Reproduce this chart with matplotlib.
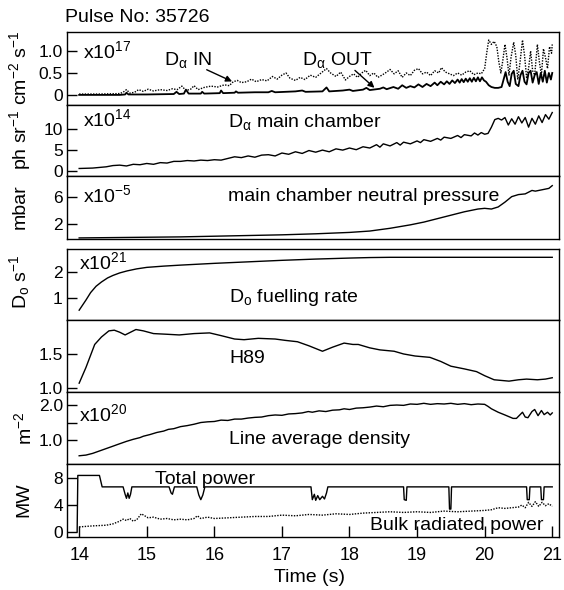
import matplotlib
matplotlib.use('Agg')
import matplotlib.pyplot as plt

plt.rcParams['font.family'] = ['Liberation Sans', 'DejaVu Sans']
plt.rcParams['mathtext.fontset'] = 'custom'
plt.rcParams['mathtext.rm'] = 'Liberation Sans'
plt.rcParams['mathtext.it'] = 'Liberation Sans:italic'
plt.rcParams['mathtext.bf'] = 'Liberation Sans:bold'

# ---------------- data ----------------
pulse_title = 'Pulse No: 35726'
x_ticks = [14, 15, 16, 17, 18, 19, 20, 21]

da_in = [(14.0,0.02),(14.3,0.02),(14.6,0.03),(14.65,0.06),(14.7,0.12),(14.75,0.04),(14.82,0.06),(14.88,0.12),
         (14.95,0.08),(15.02,0.13),(15.1,0.09),(15.2,0.12),(15.3,0.1),(15.38,0.14),(15.45,0.12),(15.52,0.2),
         (15.58,0.1),(15.65,0.13),(15.7,0.21),(15.76,0.12),(15.85,0.17),(15.95,0.2),(16.05,0.18),(16.15,0.23),
         (16.22,0.21),(16.28,0.3),(16.34,0.33),(16.4,0.28),(16.48,0.3),(16.55,0.36),(16.62,0.3),(16.7,0.35),
         (16.78,0.32),(16.86,0.42),(16.93,0.36),(17.0,0.45),(17.06,0.5),(17.12,0.38),(17.2,0.33),(17.27,0.4),
         (17.34,0.35),(17.42,0.45),(17.5,0.4),(17.58,0.5),(17.66,0.6),(17.72,0.5),(17.8,0.42),(17.87,0.52),
         (17.94,0.34),(18.0,0.42),(18.06,0.48),(18.12,0.4),(18.18,0.5),(18.24,0.56),(18.3,0.44),(18.36,0.5),
         (18.42,0.4),(18.48,0.45),(18.55,0.52),(18.6,0.58),(18.66,0.48),(18.72,0.55),(18.78,0.4),(18.84,0.5),
         (18.9,0.44),(18.96,0.56),(19.02,0.6),(19.08,0.48),(19.14,0.52),(19.2,0.44),(19.26,0.55),(19.32,0.5),
         (19.36,0.62),(19.42,0.52),(19.48,0.48),(19.54,0.44),(19.6,0.5),(19.66,0.45),(19.72,0.52),(19.78,0.55),
         (19.84,0.46),(19.9,0.5),(19.95,0.48),(20.0,0.6),(20.03,0.95),(20.06,1.25),(20.1,1.15),(20.14,1.22),
         (20.18,1.1),(20.21,0.75),(20.24,0.5),(20.27,0.8),(20.3,1.15),(20.33,0.85),(20.36,0.45),(20.39,0.85),
         (20.43,1.2),(20.46,0.9),(20.49,0.35),(20.52,0.7),(20.56,1.25),(20.59,0.9),(20.62,0.4),(20.65,0.6),
         (20.68,1.0),(20.71,0.55),(20.74,0.45),(20.78,1.15),(20.81,0.75),(20.84,0.45),(20.87,1.05),(20.9,0.85),
         (20.93,0.6),(20.96,1.1),(20.99,0.95),(21.0,1.15)]

da_out = [(14.0,0.0),(14.6,0.0),(14.68,0.01),(14.7,0.05),(14.73,0.01),(15.0,0.01),(15.4,0.02),(15.44,0.07),
          (15.48,0.02),(15.55,0.03),(15.58,0.12),(15.62,0.03),(15.8,0.03),(15.82,0.07),(15.85,0.03),(16.08,0.04),
          (16.1,0.1),(16.13,0.04),(16.3,0.05),(16.32,0.08),(16.35,0.05),(16.6,0.06),(16.8,0.06),(16.85,0.09),
          (16.9,0.06),(17.2,0.08),(17.3,0.1),(17.35,0.07),(17.6,0.08),(17.66,0.17),(17.7,0.08),(17.9,0.1),
          (18.0,0.12),(18.05,0.09),(18.2,0.12),(18.25,0.16),(18.3,0.11),(18.45,0.14),(18.5,0.17),(18.55,0.13),
          (18.65,0.18),(18.72,0.14),(18.78,0.22),(18.84,0.16),(18.9,0.2),(18.96,0.17),(19.02,0.24),(19.08,0.18),
          (19.14,0.25),(19.2,0.2),(19.26,0.28),(19.3,0.22),(19.35,0.3),(19.4,0.24),(19.44,0.31),(19.48,0.25),
          (19.52,0.33),(19.56,0.27),(19.6,0.35),(19.63,0.28),(19.66,0.36),(19.69,0.29),(19.72,0.37),(19.75,0.3),
          (19.78,0.38),(19.81,0.3),(19.84,0.39),(19.87,0.31),(19.9,0.4),(19.93,0.31),(19.96,0.4),(19.99,0.33),
          (20.02,0.3),(20.06,0.22),(20.1,0.18),(20.15,0.16),(20.2,0.16),(20.25,0.18),(20.28,0.35),(20.31,0.52),
          (20.34,0.3),(20.37,0.2),(20.4,0.48),(20.43,0.55),(20.46,0.25),(20.5,0.2),(20.53,0.45),(20.56,0.55),
          (20.59,0.3),(20.62,0.24),(20.65,0.5),(20.68,0.55),(20.71,0.28),(20.74,0.45),(20.77,0.52),(20.8,0.25),
          (20.83,0.5),(20.86,0.3),(20.89,0.55),(20.92,0.28),(20.95,0.5),(20.98,0.35),(21.0,0.5)]

da_main = [(14.0,0.6),(14.2,0.7),(14.4,1.0),(14.5,1.3),(14.6,1.4),(14.7,1.2),(14.8,1.6),(14.9,1.5),(15.0,1.8),
           (15.1,1.6),(15.2,2.0),(15.3,1.9),(15.4,2.3),(15.5,2.3),(15.6,2.5),(15.7,2.4),(15.8,2.6),(15.9,2.5),
           (16.0,2.7),(16.1,2.6),(16.2,3.0),(16.3,3.4),(16.4,3.2),(16.5,3.6),(16.6,3.3),(16.7,3.8),(16.8,3.9),
           (16.9,3.6),(17.0,4.3),(17.1,4.0),(17.2,4.6),(17.3,4.2),(17.4,4.9),(17.5,4.5),(17.6,5.0),(17.7,4.6),
           (17.8,5.3),(17.9,5.0),(18.0,5.5),(18.1,5.1),(18.2,5.8),(18.3,5.5),(18.4,6.3),(18.45,5.7),(18.5,6.5),
           (18.6,6.0),(18.7,6.8),(18.75,6.2),(18.8,6.9),(18.9,6.5),(19.0,7.2),(19.05,6.8),(19.1,7.5),(19.2,7.1),
           (19.3,7.8),(19.35,7.4),(19.4,8.1),(19.5,7.8),(19.6,8.5),(19.65,8.0),(19.7,8.7),(19.8,8.4),(19.85,9.1),
           (19.9,8.6),(19.95,9.2),(20.0,8.8),(20.05,9.0),(20.1,10.5),(20.15,12.3),(20.2,12.6),(20.25,12.2),
           (20.3,12.8),(20.35,11.0),(20.4,12.5),(20.45,11.2),(20.5,13.0),(20.55,11.5),(20.6,12.8),(20.65,10.5),
           (20.7,12.6),(20.75,11.2),(20.8,13.2),(20.85,11.6),(20.9,13.5),(20.95,12.4),(21.0,14.0)]

pressure = [(14.0,0.0),(14.5,0.05),(15.0,0.1),(15.5,0.15),(16.0,0.25),(16.5,0.35),(17.0,0.45),(17.5,0.6),
            (18.0,0.8),(18.3,1.0),(18.6,1.4),(18.9,1.9),(19.1,2.3),(19.3,2.8),(19.5,3.3),(19.7,3.8),(19.9,4.2),
            (20.0,4.3),(20.1,4.2),(20.2,4.5),(20.3,5.2),(20.4,6.0),(20.5,6.3),(20.6,6.4),(20.7,6.9),(20.75,6.8),
            (20.8,6.9),(20.85,7.0),(20.9,7.1),(20.95,7.2),(21.0,7.6)]

fuelling = [(14.0,0.5),(14.05,0.7),(14.1,0.9),(14.17,1.2),(14.25,1.45),(14.33,1.62),(14.42,1.78),(14.5,1.88),
            (14.6,1.98),(14.71,2.06),(14.85,2.14),(15.0,2.2),(15.25,2.25),(15.5,2.29),(16.0,2.36),(16.5,2.42),
            (17.0,2.48),(17.5,2.53),(18.0,2.57),(18.3,2.59),(18.6,2.6),(21.0,2.6)]

h89 = [(14.0,1.07),(14.1,1.3),(14.23,1.64),(14.33,1.75),(14.44,1.84),(14.52,1.85),(14.6,1.82),(14.68,1.78),
       (14.76,1.82),(14.84,1.86),(14.95,1.84),(15.1,1.8),(15.3,1.79),(15.48,1.78),(15.7,1.8),(15.93,1.81),
       (16.1,1.77),(16.3,1.72),(16.44,1.71),(16.65,1.73),(16.9,1.72),(17.05,1.7),(17.23,1.68),(17.4,1.62),
       (17.6,1.54),(17.75,1.6),(17.92,1.66),(18.05,1.64),(18.13,1.64),(18.3,1.59),(18.45,1.56),(18.66,1.54),
       (18.8,1.5),(18.97,1.47),(19.19,1.45),(19.35,1.39),(19.5,1.32),(19.7,1.28),(19.88,1.24),(20.0,1.18),
       (20.14,1.12),(20.36,1.1),(20.5,1.12),(20.62,1.13),(20.78,1.12),(20.9,1.13),(21.0,1.15)]

density = [(14.0,0.53),(14.1,0.55),(14.2,0.6),(14.3,0.67),(14.4,0.74),(14.5,0.81),(14.57,0.86),(14.7,0.95),
           (14.8,1.01),(14.9,1.06),(14.95,1.1),(15.05,1.15),(15.15,1.21),(15.25,1.25),(15.32,1.3),(15.4,1.32),
           (15.5,1.38),(15.6,1.41),(15.7,1.45),(15.8,1.5),(15.9,1.52),(16.0,1.53),(16.1,1.57),(16.2,1.56),
           (16.3,1.6),(16.4,1.6),(16.5,1.63),(16.6,1.65),(16.7,1.66),(16.8,1.7),(16.9,1.72),(17.0,1.71),
           (17.1,1.75),(17.2,1.76),(17.3,1.78),(17.39,1.82),(17.45,1.8),(17.55,1.84),(17.65,1.82),(17.75,1.86),
           (17.85,1.87),(17.92,1.9),(18.0,1.88),(18.1,1.92),(18.2,1.93),(18.3,1.95),(18.4,1.98),(18.5,1.96),
           (18.6,2.0),(18.7,2.01),(18.8,2.0),(18.9,2.04),(19.0,2.03),(19.1,2.06),(19.2,2.03),(19.3,2.05),
           (19.4,2.04),(19.5,2.06),(19.6,2.03),(19.7,2.05),(19.8,2.02),(19.9,2.04),(20.0,2.03),(20.05,1.97),
           (20.1,1.9),(20.15,1.85),(20.2,1.8),(20.3,1.72),(20.36,1.67),(20.42,1.62),(20.47,1.62),(20.52,1.72),
           (20.56,1.8),(20.6,1.66),(20.64,1.64),(20.7,1.82),(20.74,1.88),(20.79,1.7),(20.84,1.85),(20.88,1.73),
           (20.93,1.8),(20.97,1.72),(21.0,1.78)]

total_power = [(13.97,0.0),(13.98,8.4),(14.3,8.4),(14.34,6.7),(14.65,6.7),(14.68,5.6),(14.7,5.0),(14.72,5.8),
               (14.74,5.0),(14.76,5.6),(14.78,6.7),(15.33,6.7),(15.36,5.8),(15.38,5.6),(15.41,6.7),(15.74,6.7),
               (15.77,5.5),(15.8,4.8),(15.83,5.5),(15.86,6.7),(17.43,6.7),(17.45,4.8),(17.48,5.6),(17.5,4.7),
               (17.53,5.4),(17.56,4.8),(17.6,5.3),(17.63,4.9),(17.66,5.8),(17.68,6.7),(18.8,6.7),(18.81,4.8),
               (18.84,4.7),(18.85,6.7),(19.47,6.7),(19.48,3.4),(19.5,3.4),(19.51,6.7),(20.62,6.7),(20.63,4.8),
               (20.66,4.8),(20.67,6.7),(20.83,6.7),(20.84,4.8),(20.87,4.8),(20.88,6.7),(21.0,6.7)]

radiated = [(14.0,0.75),(14.2,0.9),(14.4,1.0),(14.5,1.2),(14.6,1.6),(14.65,1.9),(14.7,1.7),(14.75,2.0),
            (14.8,1.6),(14.85,1.8),(14.92,2.7),(14.97,2.4),(15.02,2.1),(15.1,2.2),(15.2,1.9),(15.3,2.0),
            (15.4,1.8),(15.5,1.9),(15.6,1.8),(15.7,2.0),(15.75,2.4),(15.8,2.0),(15.9,2.2),(16.0,2.0),(16.2,2.1),
            (16.4,2.2),(16.6,2.3),(16.8,2.3),(17.0,2.5),(17.2,2.4),(17.4,2.6),(17.6,2.5),(17.8,2.7),(18.0,2.6),
            (18.2,2.8),(18.4,2.9),(18.6,3.0),(18.8,2.9),(19.0,3.0),(19.2,2.9),(19.4,3.1),(19.6,3.0),(19.8,3.1),
            (20.0,3.2),(20.1,3.3),(20.2,3.6),(20.3,3.5),(20.4,3.6),(20.5,3.7),(20.55,4.0),(20.6,3.6),(20.65,4.4),
            (20.7,3.8),(20.75,4.5),(20.8,3.8),(20.85,4.4),(20.9,3.9),(20.95,4.2),(21.0,3.8)]

# ---------------- layout ----------------
W, H = 564, 590
fig = plt.figure(figsize=(W / 100, H / 100), dpi=100)
left, right = 67, 559
rows = [(31.7, 105), (105, 176), (176, 239.3), (249, 320), (320, 392), (392, 464), (464, 537)]
XLIM = (13.82, 21.1)
TS = 14  # annotation text size
LS = 12.5  # tick label size

axes = []
for top, bot in rows:
    ax = fig.add_axes([left / W, 1 - bot / H, (right - left) / W, (bot - top) / H])
    ax.set_xlim(*XLIM)
    ax.tick_params(axis='y', direction='in', length=7, width=1.0, labelsize=LS, pad=3)
    ax.tick_params(axis='x', bottom=False, labelbottom=False)
    for sp in ax.spines.values():
        sp.set_linewidth(1.0)
    axes.append(ax)

def xy(pts):
    return [p[0] for p in pts], [p[1] for p in pts]

lk = dict(color='black', lw=1.0)
dk = dict(color='black', lw=1.0, ls=(0, (1, 1)))
ALPHA = r'D$_{\mathrm{α}}$'

# Panel 1: D-alpha IN / OUT
ax = axes[0]
ax.plot(*xy(da_in), **dk)
ax.plot(*xy(da_out), color='black', lw=1.3)
ax.set_ylim(-0.23, 1.44)
ax.set_yticks([0, 0.5, 1.0])
ax.set_yticklabels(['0', '0.5', '1.0'])
ax.text(14.06, 0.83, r'x10$^{17}$', fontsize=TS, va='baseline')
ax.text(15.25, 0.68, ALPHA + ' IN', fontsize=TS, va='baseline')
ax.annotate('', xy=(16.3, 0.28), xytext=(15.85, 0.6),
            arrowprops=dict(arrowstyle='-|>', color='black', lw=1.0, mutation_scale=9))
ax.text(17.3, 0.68, ALPHA + ' OUT', fontsize=TS, va='baseline')
ax.annotate('', xy=(18.4, 0.12), xytext=(18.05, 0.6),
            arrowprops=dict(arrowstyle='-|>', color='black', lw=1.0, mutation_scale=9))

# Panel 2: D-alpha main chamber
ax = axes[1]
ax.plot(*xy(da_main), **lk)
ax.set_ylim(-1.2, 15.8)
ax.set_yticks([0, 5, 10])
ax.text(14.06, 10.8, r'x10$^{14}$', fontsize=TS, va='baseline')
ax.text(16.2, 10.5, ALPHA + ' main chamber', fontsize=TS, va='baseline')

# Panel 3: neutral pressure
ax = axes[2]
ax.plot(*xy(pressure), **lk)
ax.set_ylim(-0.2, 9.0)
ax.set_yticks([2, 6])
ax.text(14.06, 5.2, r'x10$^{-5}$', fontsize=TS, va='baseline')
ax.text(16.2, 5.3, 'main chamber neutral pressure', fontsize=TS, va='baseline')

# Panel 4: fuelling rate
ax = axes[3]
ax.plot(*xy(fuelling), **lk)
ax.set_ylim(0.11, 2.93)
ax.set_yticks([1, 2])
ax.text(14.0, 2.13, r'x10$^{21}$', fontsize=TS, va='baseline')
ax.text(16.22, 0.83, r'D$_\mathrm{o}$ fuelling rate', fontsize=TS, va='baseline')

# Panel 5: H89
ax = axes[4]
ax.plot(*xy(h89), **lk)
ax.set_ylim(0.94, 2.0)
ax.set_yticks([1.0, 1.5])
ax.set_yticklabels(['1.0', '1.5'])
ax.text(16.22, 1.36, 'H89', fontsize=TS, va='baseline')

# Panel 6: density
ax = axes[5]
ax.plot(*xy(density), **lk)
ax.set_ylim(0.29, 2.39)
ax.set_yticks([1.0, 1.5, 2.0])
ax.set_yticklabels(['1.0', '', '2.0'])
ax.text(14.0, 1.54, r'x10$^{20}$', fontsize=TS, va='baseline')
ax.text(16.22, 0.86, 'Line average density', fontsize=TS, va='baseline')

# Panel 7: power
ax = axes[6]
ax.plot(*xy(total_power), **lk)
ax.plot(*xy(radiated), **dk)
ax.set_ylim(-0.75, 10.1)
ax.set_yticks([0, 4, 8])
ax.text(15.12, 7.2, 'Total power', fontsize=TS, va='baseline')
ax.text(18.3, 0.36, 'Bulk radiated power', fontsize=TS, va='baseline')
ax.tick_params(axis='x', bottom=True, labelbottom=True, direction='in', length=8, width=1.0,
               labelsize=LS + 0.5, pad=7)
ax.set_xticks(x_ticks)
ax.set_xticklabels([str(v) for v in x_ticks])

# Figure texts
fig.text(65 / W, 1 - 18 / H, pulse_title, fontsize=TS, va='center', ha='left')
fig.text(310 / W, 1 - 577 / H, 'Time (s)', fontsize=TS, va='center', ha='center')
fig.text(20 / W, 1 - 100 / H, r'ph sr$^{-1}$ cm$^{-2}$ s$^{-1}$', fontsize=TS, rotation=90,
         va='center', ha='center')
fig.text(20 / W, 1 - 207 / H, 'mbar', fontsize=TS, rotation=90, va='center', ha='center')
fig.text(20 / W, 1 - 282 / H, r'D$_\mathrm{o}$ s$^{-1}$', fontsize=TS, rotation=90, va='center', ha='center')
fig.text(24 / W, 1 - 428 / H, r'm$^{-2}$', fontsize=TS, rotation=90, va='center', ha='center')
fig.text(24 / W, 1 - 500 / H, 'MW', fontsize=TS, rotation=90, va='center', ha='center')

fig.savefig('out.png', dpi=100)
